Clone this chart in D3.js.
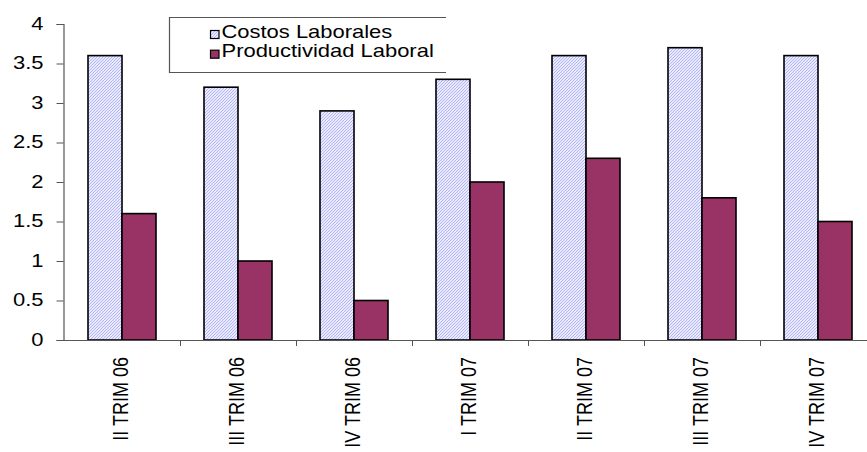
<!DOCTYPE html>
<html>
<head>
<meta charset="utf-8">
<script src="https://cdn.jsdelivr.net/npm/d3@7"></script>
<style>
  html, body { margin: 0; padding: 0; background: #fff; overflow: hidden; }
  svg text { font-family: "Liberation Sans", Arial, sans-serif; fill: #000; }
</style>
</head>
<body>
<svg id="chart" width="867" height="452"></svg>
<script>
// Quarterly data
const categories = ["II TRIM 06", "III TRIM 06", "IV TRIM 06", "I TRIM 07", "II TRIM 07", "III TRIM 07", "IV TRIM 07"];
const seriesNames = ["Costos Laborales", "Productividad Laboral"];
const costosLaborales = [3.6, 3.2, 2.9, 3.3, 3.6, 3.7, 3.6];
const productividadLaboral = [1.6, 1.0, 0.5, 2.0, 2.3, 1.8, 1.5];
const yTicks = [0, 0.5, 1, 1.5, 2, 2.5, 3, 3.5, 4];
const yTickLabels = ["0", "0.5", "1", "1.5", "2", "2.5", "3", "3.5", "4"];

const seriesValues = [costosLaborales, productividadLaboral];
const rows = categories.map((c, i) => ({ cat: c, values: seriesValues.map((s, j) => ({ key: seriesNames[j], v: s[i] })) }));

const svg = d3.select("#chart");
const SX = 1.22;          // horizontal widening of the typeface
const FONT = 18;

const x0 = d3.scaleBand().domain(categories).range([64, 876]).paddingInner(0).paddingOuter(0);
const x1 = d3.scaleBand().domain(seriesNames).range([0, x0.bandwidth()]).paddingInner(0).paddingOuter(0.706);
const y = d3.scaleLinear().domain([0, 4]).range([340, 24]);

// Fine hatched fill for the first series
const defs = svg.append("defs");
const pat = defs.append("pattern").attr("id", "hatch").attr("patternUnits", "userSpaceOnUse")
  .attr("width", 3).attr("height", 3);
pat.append("rect").attr("width", 3).attr("height", 3).attr("fill", "#eaeaff");
[[0, 2], [1, 1], [2, 0]].forEach(([px, py]) => {
  pat.append("rect").attr("x", px).attr("y", py).attr("width", 1).attr("height", 1).attr("fill", "#b4b4f8");
});
const fills = { "Costos Laborales": "url(#hatch)", "Productividad Laboral": "#993366" };

// Bars
const groups = svg.append("g").selectAll("g").data(rows).join("g")
  .attr("transform", d => `translate(${x0(d.cat)},0)`);
groups.selectAll("rect").data(d => d.values).join("rect")
  .attr("x", d => x1(d.key))
  .attr("width", x1.bandwidth())
  .attr("y", d => y(d.v))
  .attr("height", d => y(0) - y(d.v))
  .attr("fill", d => fills[d.key])
  .attr("stroke", "#000")
  .attr("stroke-width", 1.6);

// Y axis
const yAxis = svg.append("g").attr("transform", "translate(63.5,0)")
  .call(d3.axisLeft(y).tickValues(yTicks).tickFormat((d, i) => yTickLabels[i]).tickSize(7).tickPadding(0));
yAxis.select(".domain").attr("stroke", "#555").attr("stroke-width", 1.2);
yAxis.selectAll(".tick line").attr("stroke", "#555");
yAxis.selectAll(".tick text")
  .attr("font-size", FONT).attr("font-family", "Liberation Sans, Arial, sans-serif")
  .attr("x", 0).attr("dy", "0.35em").attr("text-anchor", "end")
  .attr("transform", `translate(-20,-1) scale(${SX},1)`);

// X axis baseline and boundary ticks
const xAxisG = svg.append("g");
xAxisG.append("line").attr("x1", 63.5).attr("x2", 867).attr("y1", y(0) + 0.5).attr("y2", y(0) + 0.5)
  .attr("stroke", "#555").attr("stroke-width", 1.2);
xAxisG.selectAll("line.bt").data(categories.slice(1)).join("line").attr("class", "bt")
  .attr("x1", d => x0(d) + 0.5).attr("x2", d => x0(d) + 0.5)
  .attr("y1", y(0)).attr("y2", y(0) + 6).attr("stroke", "#555");

// Rotated category labels
xAxisG.selectAll("text").data(categories).join("text")
  .attr("font-size", FONT)
  .attr("text-anchor", "end")
  .attr("transform", d => `translate(${x0(d) + x0.bandwidth() / 2 - 2},357) scale(${SX},1) rotate(-90)`)
  .attr("dy", "0.35em")
  .text(d => d);

// Legend
const lg = svg.append("g");
lg.append("path").attr("d", "M446,17.5 H169.5 V72.5 H446").attr("fill", "none").attr("stroke", "#555").attr("stroke-width", 1.2);
const items = lg.selectAll("g").data(seriesNames).join("g")
  .attr("transform", (d, i) => `translate(0,${i * 19.7})`);
items.append("rect").attr("x", 210.5).attr("y", 30.5).attr("width", 8.5).attr("height", 8)
  .attr("fill", d => fills[d]).attr("stroke", "#000").attr("stroke-width", 1.2);
items.append("text").attr("transform", `translate(221.5,37.5) scale(${SX},1)`).attr("font-size", FONT)
  .text(d => d);
</script>
</body>
</html>
